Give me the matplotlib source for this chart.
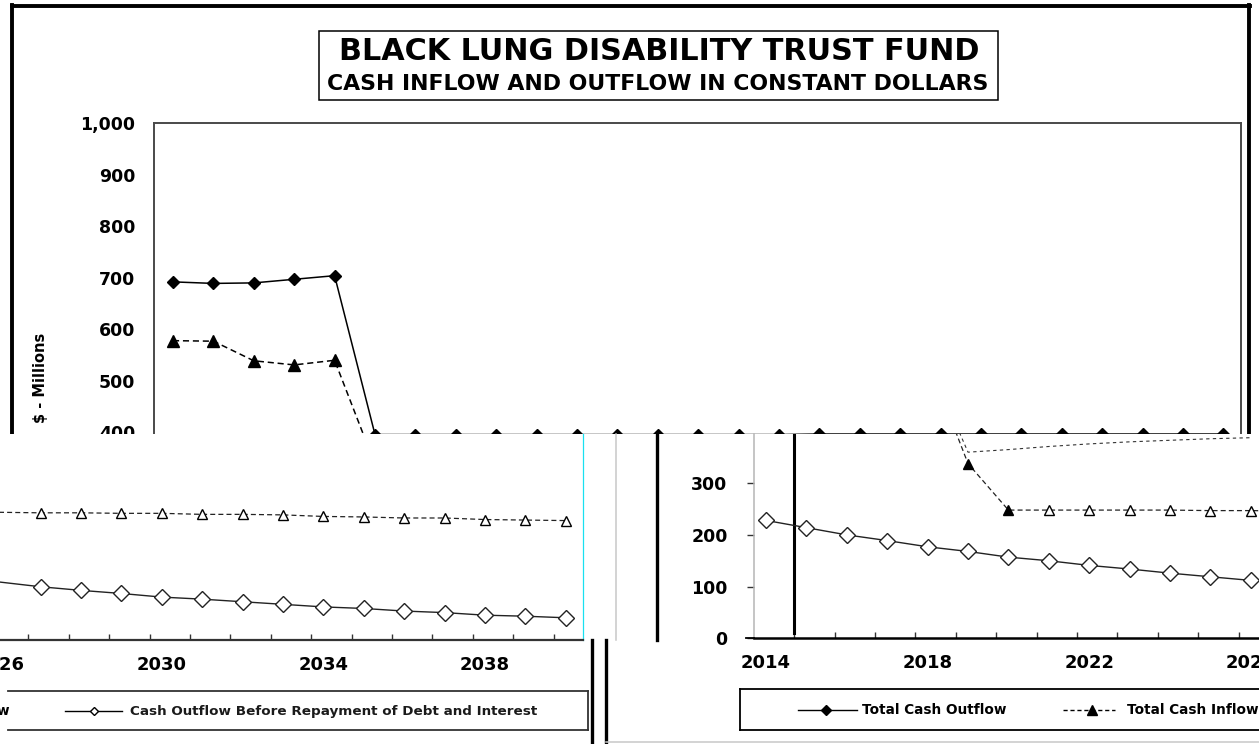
import matplotlib
matplotlib.use("Agg")
import matplotlib.pyplot as plt
from matplotlib.lines import Line2D
from matplotlib.patches import Rectangle

# ---------------- data ----------------
years = list(range(2014, 2041))
total_outflow = [692, 689, 690, 697, 704, 396, 396, 396, 396, 396, 396, 396, 396, 396,
                 396, 396, 397, 397, 397, 397, 397, 397, 397, 397, 397, 397, 397]
total_inflow = [578, 577, 539, 531, 540, 338, 248, 248, 248, 248, 248, 247, 247, 246,
                246, 245, 245, 243, 243, 242, 239, 238, 236, 236, 233, 232, 231]
outflow_before = [228, 214, 200, 189, 177, 168, 157, 150, 141, 134, 126, 119, 112, 103,
                  96, 90, 83, 79, 74, 69, 64, 61, 56, 53, 48, 46, 43]
upper_years = [2018, 2019, 2020, 2021, 2022, 2023, 2024, 2025, 2026]
upper_inflow = [540, 360, 365, 371, 376, 380, 383, 386, 388]

ytick_top = [400, 500, 600, 700, 800, 900, 1000]
ytick_top_labels = ["400", "500", "600", "700", "800", "900", "1,000"]
ytick_low = [0, 100, 200, 300]
ytick_low_labels = ["0", "100", "200", "300"]
xlabel_years = [2014, 2018, 2022, 2026, 2030, 2034, 2038]

title1 = "BLACK LUNG DISABILITY TRUST FUND"
title2 = "CASH INFLOW AND OUTFLOW IN CONSTANT DOLLARS"
ylabel = "$ - Millions"
leg_total_out = "Total Cash Outflow"
leg_total_in = "Total Cash Inflow"
leg_before = "Cash Outflow Before Repayment of Debt and Interest"

# ---------------- layout helpers ----------------
W, H = 1259, 744
plt.rcParams["font.family"] = ["DejaVu Sans"]
plt.rcParams["font.weight"] = "bold"
fig = plt.figure(figsize=(W / 100, H / 100), dpi=100)
fig.patch.set_facecolor("white")


def fx(x):
    return x / W


def fy(y):
    return 1 - y / H


def frect(x0, y0, x1, y1):
    return [x0 / W, 1 - y1 / H, (x1 - x0) / W, (y1 - y0) / H]


def fline(xs, ys, z=4, **kw):
    fig.add_artist(Line2D([fx(v) for v in xs], [fy(v) for v in ys],
                          transform=fig.transFigure, zorder=z, **kw))


def ftext(x, y, s, z=5, **kw):
    return fig.text(fx(x), fy(y), s, zorder=z, **kw)


def set_limits(ax, box, xref, yref, ppy, yzero, ppu):
    x0, y0, x1, y1 = box
    ax.set_xlim(yref + (x0 - xref) / ppy, yref + (x1 - xref) / ppy)
    ax.set_ylim((yzero - y1) / ppu, (yzero - y0) / ppu)


DASH = (0, (4, 2.5))
PPY = 40.4

# ================= TOP TILE =================
boxT = (154, 123, 1240.7, 434)
axT = fig.add_axes(frect(*boxT), zorder=0)
for s in ("left", "top", "right"):
    axT.spines[s].set_color("#4a4a4a")
    axT.spines[s].set_linewidth(1.4)
axT.spines["bottom"].set_visible(False)
axT.set_xticks([])
axT.set_yticks(ytick_top)
axT.set_yticklabels(ytick_top_labels)
axT.tick_params(axis="y", length=0, pad=13.5, labelsize=12.5)
axT.plot(years, total_outflow, color="black", lw=1.1, marker="D", ms=6.2,
         mfc="black", mec="black")
axT.plot(years, total_inflow, color="black", lw=1.1, ls=DASH, marker="^", ms=8.5,
         mfc="black", mec="black")
set_limits(axT, boxT, 173, 2014, PPY, 638.8, 0.5158)

# outer frame of the original chart
fline([12, 1250], [5.5, 5.5], z=1, color="black", lw=2.8)
fline([12, 12], [5, 434], z=1, color="black", lw=2.8)
fline([1249, 1249], [5, 434], z=1, color="black", lw=2.8)

# title box
fig.add_artist(Rectangle((fx(319), fy(100)), (998 - 319) / W, (100 - 31) / H,
                         transform=fig.transFigure, fill=False, ec="black", lw=1.1, zorder=1))
ftext(659, 52, title1, z=1, ha="center", va="center", fontsize=21.8, fontweight="bold")
ftext(658, 84, title2, z=1, ha="center", va="center", fontsize=15.8, fontweight="bold")
ftext(40, 378, ylabel, z=1, ha="center", va="center", rotation=90, fontsize=10.5,
      fontweight="bold")

# ================= BOTTOM TILE BACKGROUNDS =================
fig.add_artist(Rectangle((fx(0), fy(744)), 590 / W, (744 - 434) / H,
                         transform=fig.transFigure, fc="white", ec="none", zorder=2))
fig.add_artist(Rectangle((fx(590), fy(744)), (W - 590) / W, (744 - 434) / H,
                         transform=fig.transFigure, fc="white", ec="none", zorder=2))

# ================= BOTTOM-LEFT TILE =================
boxBL = (0, 434, 583, 640)
axBL = fig.add_axes(frect(*boxBL), zorder=3)
axBL.set_facecolor("none")
for s in ("left", "top"):
    axBL.spines[s].set_visible(False)
axBL.spines["bottom"].set_color("#333333")
axBL.spines["bottom"].set_linewidth(1.6)
axBL.spines["right"].set_color("#19e0f0")
axBL.spines["right"].set_linewidth(0.9)
axBL.set_yticks([])
axBL.set_xticks(xlabel_years)
axBL.set_xticklabels([str(v) for v in xlabel_years])
axBL.set_xticks([v + 0.7 for v in years], minor=True)
axBL.tick_params(axis="x", which="major", length=0, pad=11.5, labelsize=13)
axBL.tick_params(axis="x", which="minor", direction="in", length=4, width=1, color="#333333")
axBL.plot(years, total_inflow, color="#222222", lw=0.9, ls=DASH)
axBL.plot(years[13:], total_inflow[13:], ls="none", marker="^", ms=7, mfc="white",
          mec="black", mew=1)
axBL.plot(years, outflow_before, color="#222222", lw=1.0)
axBL.plot(years[13:], outflow_before[13:], ls="none", marker="D", ms=7.8,
          mfc="white", mec="#222222", mew=1)
set_limits(axBL, boxBL, 161.7, 2030, PPY, 640, 0.517)

# legend fragment (bottom-left)
fline([8, 588], [690.7, 690.7], color="#333333", lw=1.3)
fline([8, 588], [730, 730], color="#333333", lw=1.3)
fline([588, 588], [690.7, 730], color="#333333", lw=1.3)
ftext(10, 711, leg_total_in, ha="right", va="center", fontsize=9.8, fontweight="bold")
fline([65, 122], [711, 711], color="black", lw=1.0)
fline([93.5], [711], color="black", ls="none", marker="D", ms=4.5, mfc="white", mec="black")
ftext(130, 711, leg_before, ha="left", va="center", fontsize=9.7, fontweight="bold",
      color="#1a1a1a")

# ================= BOTTOM-RIGHT TILE =================
fline([616, 616], [434, 640], color="#c8c8c8", lw=1.1)
fline([657, 657], [434, 640], color="black", lw=2.4)
fline([592, 592], [640, 744], color="black", lw=2.4)
fline([606, 606], [640, 744], color="black", lw=2.4)
fline([606, 1259], [742, 742], color="#c8c8c8", lw=1.1)
fline([746, 754], [638.3, 638.3], color="black", lw=1.3)

boxBR = (754, 434, 1259, 638.3)
axBR = fig.add_axes(frect(*boxBR), zorder=3)
axBR.set_facecolor("none")
for s in ("top", "right"):
    axBR.spines[s].set_visible(False)
axBR.spines["left"].set_color("#b5b5b5")
axBR.spines["left"].set_linewidth(1.1)
axBR.spines["bottom"].set_color("black")
axBR.spines["bottom"].set_linewidth(1.8)
axBR.set_yticks(ytick_low)
axBR.set_yticklabels(ytick_low_labels)
axBR.tick_params(axis="y", length=5, width=1, color="#333333", pad=14, labelsize=12.5)
axBR.set_xticks(xlabel_years)
axBR.set_xticklabels([str(v) for v in xlabel_years])
axBR.set_xticks([v + 0.7 for v in years], minor=True)
axBR.tick_params(axis="x", which="major", length=0, pad=11.5, labelsize=13)
axBR.tick_params(axis="x", which="minor", direction="in", length=4, width=1, color="#333333")
axBR.axvline(years[0] + 0.7, ymin=0.025, ymax=1, color="black", lw=2.2)
axBR.plot(upper_years, upper_inflow, color="#333333", lw=0.8, ls=(0, (3, 3)))
axBR.plot(years, total_inflow, color="#222222", lw=0.9, ls=DASH)
axBR.plot(years[5:7], total_inflow[5:7], ls="none", marker="^", ms=7.5, mfc="black",
          mec="black")
axBR.plot(years[7:], total_inflow[7:], ls="none", marker="^", ms=7.5, mfc="white",
          mec="black", mew=1)
axBR.plot(years, outflow_before, color="#222222", lw=1.0, marker="D", ms=7.8,
          mfc="white", mec="#222222", mew=1)
set_limits(axBR, boxBR, 766, 2014, PPY, 638.3, 0.517)

# legend fragment (bottom-right)
fline([740, 1259], [689, 689], color="black", lw=1.3)
fline([740, 1259], [730, 730], color="black", lw=1.3)
fline([740, 740], [689, 730], color="black", lw=1.3)
fline([798, 857], [709.5, 709.5], color="black", lw=1.0)
fline([826], [709.5], color="black", ls="none", marker="D", ms=5, mfc="black", mec="black")
ftext(862, 709.5, leg_total_out, ha="left", va="center", fontsize=9.8, fontweight="bold")
fline([1063, 1115], [709.5, 709.5], color="black", lw=1.0, ls=(0, (3, 2)))
fline([1091.7], [709.5], color="black", ls="none", marker="^", ms=6.5, mfc="black",
      mec="black")
ftext(1127, 709.5, leg_total_in, ha="left", va="center", fontsize=9.8, fontweight="bold")

fig.savefig("out.png", dpi=100, facecolor="white")
